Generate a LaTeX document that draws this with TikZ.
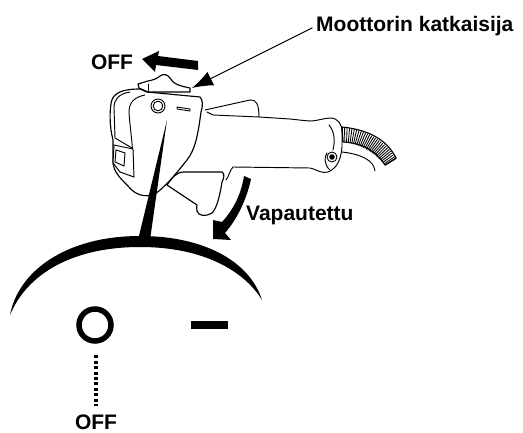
\documentclass[tikz,border=0pt]{standalone}
\usepackage{fontspec}
\setmainfont{Liberation Sans}
\usetikzlibrary{positioning, arrows.meta}

\begin{document}
\begin{tikzpicture}[
		x=1pt,
		y=-1pt,
		font=\fontsize{21}{25}\selectfont\bfseries,
		outline/.style={draw, line width=1.15pt, line join=round, fill=white},
		thinline/.style={draw, line width=0.95pt, line cap=round},
		solid black/.style={fill=black, draw=none},
		label/.style={inner sep=0pt}
		]
		\useasboundingbox (0,0) rectangle (523,433);
		
		% Cable and hose
		\draw[thinline] (342,152) .. controls (360,154) and (374,160) .. (375,171);
		\draw[outline] (342,127) .. controls (372,130) and (388,142) .. (396,158)
			-- (385,165) .. controls (375,150) and (362,143) .. (343,142) -- cycle;
		\foreach \t in {0,0.036,...,1.01}
			\draw[line width=0.85pt] ({(1-\t)^2*342+2*\t*(1-\t)*378+\t^2*396},{(1-\t)^2*127+2*\t*(1-\t)*131+\t^2*158})
				-- ({(1-\t)^2*343+2*\t*(1-\t)*368+\t^2*385},{(1-\t)^2*142+2*\t*(1-\t)*145+\t^2*165});
		
		% Handle
		\draw[thinline] (207,112) -- (213,115) -- (259,117) -- (290,119) .. controls (300,120) and (306,121) .. (312,121)
			.. controls (320,120) and (326,118) .. (330,118) .. controls (338,118) and (342,124) .. (342,132)
			-- (342,147) .. controls (341,158) and (338,168) .. (328,172) .. controls (322,174) and (318,170) .. (310,168)
			-- (233,167) .. controls (230,170) and (229,176) .. (226,180);
		\draw[thinline] (205,110) -- (250,100) .. controls (256,99) and (259,104) .. (259,117);
		\draw[thinline] (329,125) .. controls (335,132) and (335,142) .. (333,150);
		\draw[thinline] (330,170) .. controls (324,165) and (324,156) .. (327,153);
		\draw[line width=0.9pt] (332,157) circle (5);
		\fill (332,157) circle (2.8);
		
		% Trigger
		\draw[outline] (167,185) .. controls (172,178) and (176,172) .. (184,172) -- (222,172)
			.. controls (225,174) and (224,178) .. (222,182) .. controls (220,195) and (217,208) .. (212,213)
			.. controls (206,217) and (198,216) .. (197,211) .. controls (196,208) and (197,206) .. (197,205) -- cycle;
		
		% Housing
		\draw[outline] (147,92) -- (200,97) .. controls (203,100) and (203,106) .. (201,112)
			.. controls (198,135) and (195,150) .. (187,160) .. controls (175,175) and (165,187) .. (155,194)
			.. controls (145,198) and (135,195) .. (128,186) .. controls (120,178) and (114,172) .. (113,163)
			-- (113,140) .. controls (109,125) and (110,110) .. (111,104) .. controls (112,94) and (120,89) .. (140,89) -- cycle;
		\draw[thinline] (145,95) .. controls (135,97) and (129,102) .. (129,112) .. controls (130,130) and (134,150) .. (133,175);
		\draw[thinline] (130,92) .. controls (118,94) and (114,100) .. (114,108) -- (115,138) -- (132,148);
		\draw[thinline, fill=white] (114,145) -- (133,149) -- (134,177) -- (120,172) -- (113,163) -- cycle;
		\draw[thinline] (116,150) -- (125,153) -- (124,166) -- (115,162) -- cycle;
		\draw[line width=0.9pt] (158,106) circle (7);
		\draw[line width=0.9pt] (158,106) circle (4.8);
		\draw[line width=0.9pt] (177,107) -- (190,109) -- (190,111) -- (177,109) -- cycle;
		
		% Switch knob
		\draw[outline] (138,84) -- (148,81) .. controls (154,80) and (158,78) .. (160,76) .. controls (164,73) and (168,75) .. (170,78)
			.. controls (173,84) and (180,86) .. (190,88) -- (190,92) -- (148,92) -- (139,88) -- cycle;
		\draw[thinline] (148,84) -- (148,92);
		
		% Labels
		\node[label, anchor=west] (motor) at (316,26) {Moottorin katkaisija};
		\node[label, anchor=center] (offtop) at (112,62) {OFF};
		\node[label, anchor=west] (released) at (246,215) {Vapautettu};
		\coordinate (knobtip) at (192,88);
		
		% Pointer to the switch
		\draw[-{Latex[length=21pt,width=15pt]}, line width=0.9pt, shorten <=4pt] (motor.west) -- (knobtip);
		
		% Thick arrows
		\path[solid black] (142,59) -- (159,51) -- (158,56) -- (198,61) -- (198,70) -- (156,65) -- (155,72) -- cycle;
		\path[solid black] (244,176) .. controls (241,195) and (233,210) .. (222,222) -- (213,220) -- (213,239) -- (231,240)
			-- (225,233) .. controls (238,218) and (247,198) .. (251,179) -- cycle;
		
		% Dial
		\path[solid black] (167,120) -- (150,240) -- (138,240) -- cycle;
		\path[solid black] (10,315) .. controls (18,272) and (65,236) .. (140,236) .. controls (205,236) and (250,262) .. (262,300)
			.. controls (245,272) and (205,247) .. (140,247) .. controls (75,247) and (28,272) .. (10,315) -- cycle;
		\node[circle, draw, line width=5.5pt, minimum size=32pt, inner sep=0pt, outer sep=2.5pt] (ring) at (95,325) {};
		\node[fill=black, minimum width=37pt, minimum height=8pt, inner sep=0pt] (bar) at (209.5,325) {};
		\node[label] (offlow) at (96,422) {OFF};
		\draw[line width=3.5pt, dash pattern=on 3pt off 2.4pt, shorten <=12pt, shorten >=8pt] (ring.south -| offlow) -- (offlow.north);
	\end{tikzpicture}
\end{document}
